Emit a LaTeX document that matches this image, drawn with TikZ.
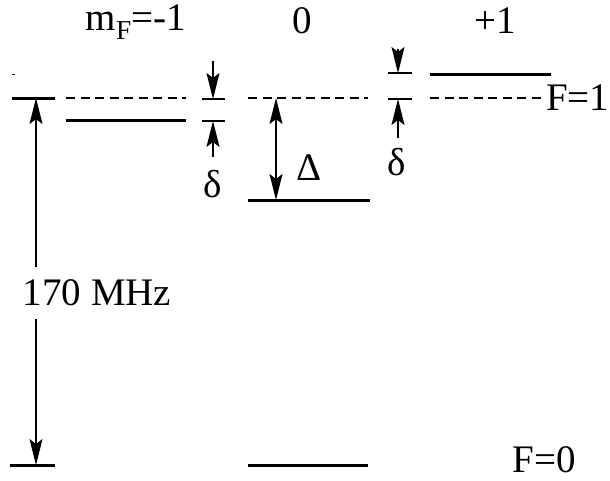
\documentclass[tikz,border=0pt]{standalone}
\usepackage{fontspec}
\setmainfont{Liberation Serif}
\usetikzlibrary{arrows.meta}

\tikzset{
  level/.style={line width=3pt},
  virtual/.style={line width=1.3pt, dash pattern=on 9pt off 5.5pt},
  tickbar/.style={line width=1.3pt},
  headtip/.tip={Stealth[length=26pt, width=13pt, inset=5pt]},
  gaparrow/.style={-headtip, line width=1.6pt},
  lbl/.style={inner sep=0pt}
}

\begin{document}
\begin{tikzpicture}[x=1pt, y=-1pt, font=\fontsize{39}{43}\selectfont]
  \useasboundingbox (0,0) rectangle (610,480);

  % level heights (pixel grid, y downwards)
  \def\yF{98}
  \def\yG{465}
  \def\ym{120}
  \def\yz{200}
  \def\yp{74}

  % m_F labels
  \node[lbl] (lm) at (136,22) {m\textsubscript{F}=-1};
  \node[lbl] (lz) at (302,21) {0};
  \node[lbl] (lp) at (495,21) {+1};

  % unshifted F=1 level and F=0 ground levels
  \coordinate (fone) at (36,\yF);
  \coordinate (fzero) at (36,\yG);
  \draw[level] (12,\yF) -- (55,\yF);
  \draw[level] (10,\yG) -- (55,\yG);
  \draw[level] (248,\yG) -- (368,\yG);
  \draw[line width=1pt] (12,74) -- (15,74);

  % shifted Zeeman sublevels
  \draw[level] (66,\ym) -- (186,\ym);
  \draw[level] (248,\yz) -- (370,\yz);
  \draw[level] (430,\yp) -- (551,\yp);

  % dashed reference (unshifted) lines
  \draw[virtual] (66,\yF) -- (186,\yF);
  \draw[virtual] (248,\yF) -- (368,\yF);
  \draw[virtual] (430,\yF) -- (545,\yF);

  % level labels
  \node[lbl, anchor=west] (lFone) at (546,\yF) {F=1};
  \node[lbl] (lFzero) at (544,460) {F=0};

  % hyperfine splitting
  \node[fill=white, inner xsep=0pt, inner ysep=13pt] (freq) at (97,293) {170 MHz};
  \draw[gaparrow] (freq.north -| fone) -- (fone);
  \draw[gaparrow] (freq.south -| fzero) -- (fzero);

  % delta for m_F=-1
  \coordinate (da) at (213,99);
  \coordinate (db) at (213,121);
  \draw[tickbar] (202,99) -- (225,99);
  \draw[tickbar] (202,121) -- (225,121);
  \draw[gaparrow] (213,61) -- (da);
  \draw[gaparrow] (213,157) -- (db);
  \node[lbl] (dlow) at (213,184) {δ};

  % Delta for m_F=0
  \coordinate (Da) at (276,\yF);
  \coordinate (Db) at (276,\yz);
  \draw[headtip-headtip, line width=1.6pt] (Da) -- (Db);
  \node[lbl] (Dlbl) at (309,168) {Δ};

  % delta for m_F=+1
  \coordinate (pa) at (398,73);
  \coordinate (pb) at (398,99);
  \draw[tickbar] (388,73) -- (412,73);
  \draw[tickbar] (388,99) -- (412,99);
  \draw[gaparrow] (398,49) -- (pa);
  \draw[gaparrow] (398,138) -- (pb);
  \node[lbl] (dup) at (397,162) {δ};

\end{tikzpicture}
\end{document}
